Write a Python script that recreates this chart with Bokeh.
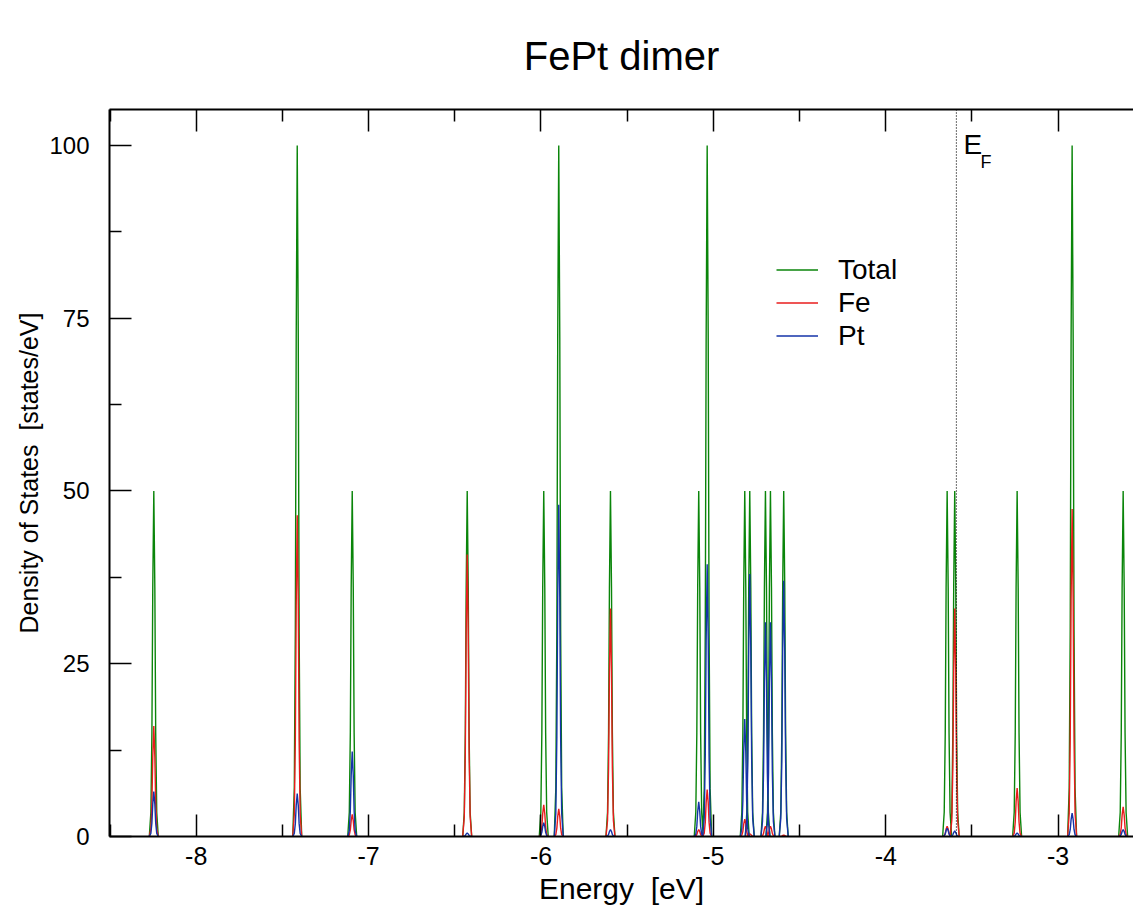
import math
from bokeh.plotting import figure
from bokeh.models import (Range1d, FixedTicker, LinearAxis, Span, Label,
                          Legend, LegendItem)
from bokeh.embed import file_html
from bokeh.resources import INLINE

# ---- data ----
PEAK_ENERGY = [-8.246, -7.414, -7.095, -6.428, -5.984, -5.897, -5.597,
               -5.085, -5.036, -4.818, -4.789, -4.698, -4.669, -4.592,
               -3.644, -3.600, -3.238, -2.919, -2.623]
TOTAL_DOS = [50, 100, 50, 50, 50, 100, 50,
             50, 100, 50, 50, 50, 50, 50,
             50, 50, 50, 100, 50]
FE_DOS = [16.0, 46.5, 3.2, 40.8, 4.6, 4.0, 33.0,
          1.0, 6.8, 2.5, 0.4, 1.5, 1.5, 0.2,
          1.5, 33.0, 7.0, 47.4, 4.3]
PT_DOS = [6.5, 6.2, 12.3, 0.5, 2.0, 48.0, 1.0,
          5.0, 39.4, 17.0, 38.0, 31.0, 31.0, 37.0,
          1.2, 0.8, 0.5, 3.4, 1.0]
E_FERMI = -3.590
SERIES_NAMES = ["Total", "Fe", "Pt"]
TITLE = "FePt dimer"
X_TICKS = [-8, -7, -6, -5, -4, -3]
X_MINOR = [-8.5, -7.5, -6.5, -5.5, -4.5, -3.5, -2.5]
Y_TICKS = [0, 25, 50, 75, 100]
Y_MINOR = [12.5, 37.5, 62.5, 87.5]

# ---- line shape of one broadened level (style) ----
SHAPE_DX = [-0.026, -0.017, -0.011, -0.006, 0.0, 0.006, 0.011, 0.017, 0.026]
SHAPE_REL = [0.0, 0.07, 0.30, 0.72, 1.0, 0.72, 0.30, 0.07, 0.0]


def curve(heights):
    xs, ys = [], []
    for e, h in zip(PEAK_ENERGY, heights):
        for dx, r in zip(SHAPE_DX, SHAPE_REL):
            xs.append(e + dx)
            ys.append(h * r)
        xs.append(float("nan"))
        ys.append(float("nan"))
    return xs, ys


FONT = "Liberation Sans"
COLORS = ["#0a850a", "#e81c1c", "#1433a8"]
X_LO, X_HI = -8.503, -2.563
Y_LO, Y_HI = 0, 105.2

p = figure(frame_width=1024, frame_height=727,
           x_range=Range1d(X_LO, X_HI), y_range=Range1d(Y_LO, Y_HI),
           output_backend="svg", toolbar_location=None,
           min_border_left=109, min_border_right=0, min_border_top=109,
           min_border_bottom=10, background_fill_color="white",
           border_fill_color="white")
p.outline_line_color = None
p.grid.visible = False

p.title.text = TITLE
p.title.align = "center"
p.title.text_font = FONT
p.title.text_font_size = "40px"
p.title.text_font_style = "normal"
p.title.text_color = "black"
p.title.standoff = 63

renderers = []
for heights, col in zip([TOTAL_DOS, FE_DOS, PT_DOS], COLORS):
    xs, ys = curve(heights)
    r = p.line(xs, ys, line_color=col, line_width=1.4)
    renderers.append(r)

xt = FixedTicker(ticks=X_TICKS, minor_ticks=X_MINOR)
yt = FixedTicker(ticks=Y_TICKS, minor_ticks=Y_MINOR)


def style_axis(ax, labels=True):
    ax.axis_line_color = "black"
    ax.axis_line_width = 2
    ax.major_tick_in = 22
    ax.major_tick_out = 0
    ax.minor_tick_in = 12
    ax.minor_tick_out = 0
    ax.major_tick_line_color = "black"
    ax.minor_tick_line_color = "black"
    ax.major_tick_line_width = 1.5
    ax.minor_tick_line_width = 1.5
    ax.major_label_text_font = FONT
    ax.major_label_text_font_size = "25px"
    ax.major_label_text_color = "black" if labels else None
    ax.axis_label_text_font = FONT
    ax.axis_label_text_font_style = "normal"
    ax.axis_label_text_color = "black"


xa = p.xaxis[0]
xa.ticker = xt
style_axis(xa)
xa.major_label_overrides = {t: str(t) for t in X_TICKS}
xa.axis_label = "Energy\u00a0 [eV]"
xa.axis_label_text_font_size = "30px"
xa.major_label_standoff = 10
xa.axis_label_standoff = 4

ya = p.yaxis[0]
ya.ticker = yt
style_axis(ya)
ya.major_label_text_font_size = "24px"
ya.major_label_overrides = {t: str(t) for t in Y_TICKS}
ya.axis_label = "Density of States\u00a0 [states/eV]"
ya.axis_label_text_font_size = "25px"
ya.major_label_standoff = 20
ya.axis_label_standoff = 3

# top frame edge with inward ticks, no labels
top = LinearAxis(ticker=xt)
style_axis(top, labels=False)
top.major_label_text_font_size = "0px"
top.major_label_standoff = 0
p.add_layout(top, "above")

# Fermi level
p.add_layout(Span(location=E_FERMI, dimension="height", line_color="black",
                  line_width=1.2, line_dash="1 2"))
p.add_layout(Label(x=E_FERMI, y=100.2, x_offset=7, text="E",
                   text_font=FONT, text_font_size="28px",
                   text_baseline="alphabetic", text_color="black"))
p.add_layout(Label(x=E_FERMI, y=97.6, x_offset=24, text="F",
                   text_font=FONT, text_font_size="18px",
                   text_baseline="alphabetic", text_color="black"))

legend = Legend(items=[LegendItem(label=n, renderers=[r])
                       for n, r in zip(SERIES_NAMES, renderers)],
                location=(667, 484))
legend.glyph_width = 42
legend.glyph_height = 33
legend.label_height = 33
legend.label_standoff = 20
legend.spacing = 0
legend.padding = 0
legend.margin = 0
legend.border_line_color = None
legend.background_fill_alpha = 0
legend.label_text_font = FONT
legend.label_text_font_size = "28px"
legend.label_text_color = "black"
p.add_layout(legend, "center")

open("out.html", "w").write(file_html(p, INLINE))
